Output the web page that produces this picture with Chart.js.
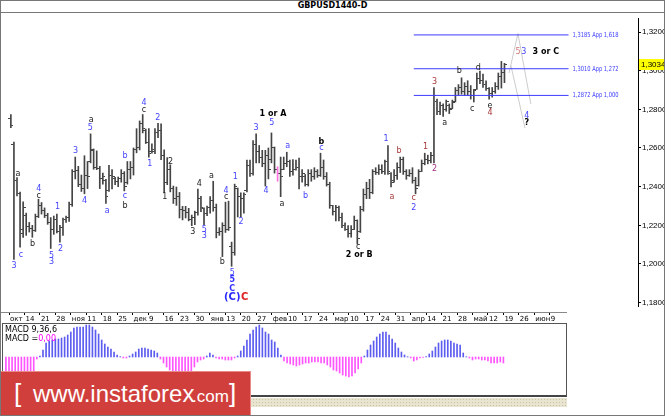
<!DOCTYPE html>
<html>
<head>
<meta charset="utf-8">
<title>GBPUSD1440-D</title>
<script src="https://cdn.jsdelivr.net/npm/chart.js@4.4.1/dist/chart.umd.min.js"></script>
<style>
    body { margin: 0; background: #fff; }
    #frame { position: relative; width: 665px; height: 416px; overflow: hidden; background: #fff; font-family: 'DejaVu Sans', sans-serif; }
    #frame canvas { position: absolute; display: block; }
    #outline { position: absolute; left: 0; top: 0; width: 665px; height: 416px; box-sizing: border-box; border: 1px solid #777; pointer-events: none; z-index: 9; }
    #title { position: absolute; left: 0; top: 0; width: 665px; height: 12px; border-bottom: 1px solid #777; text-align: center; font: bold 8px/12px 'DejaVu Sans', sans-serif; color: #000; }
    #priceChart { left: 1px; top: 13px; }
    #dateAxis { left: 0; top: 309px; }
    #macdBox { position: absolute; left: 2px; top: 323px; width: 565px; height: 74px; box-sizing: border-box; border: 1px solid #555; border-bottom: 2px solid #444; }
    #macdChart { left: 0; top: 0; }
    #macdText { position: absolute; left: 5px; top: 325px; font: 8px/9px 'DejaVu Sans', sans-serif; color: #000; }
    #macdText .zero { color: #ff00ff; }
    #strip { position: absolute; left: 0; top: 398px; width: 567px; height: 9px; background-color: #e8e4d0; background-image: radial-gradient(#c8c2a6 0.6px, transparent 0.8px); background-size: 3px 3px; }
    #banner { position: absolute; left: 0; top: 371px; width: 251px; height: 45px; box-sizing: border-box; background: #d13f3d; border-top: 1px solid #e88a88; border-right: 1px solid #e88a88; color: #fff; font-family: 'Liberation Sans', Arial, sans-serif; }
    #banner span { position: absolute; white-space: nowrap; }
    #banner .br { top: 6px; font-size: 26px; line-height: 30px; }
    #banner .www { left: 33px; top: 7px; font-size: 24px; line-height: 30px; }
    #banner .com { left: 192px; top: 12px; font-size: 17px; line-height: 26px; }
</style>
</head>
<body>
<div id="frame">
    <div id="title">GBPUSD1440-D</div>
    <canvas id="priceChart" width="663" height="298"></canvas>
    <canvas id="dateAxis" width="567" height="14"></canvas>
    <div id="macdBox"><canvas id="macdChart" width="563" height="71"></canvas></div>
    <div id="macdText">MACD 9,36,6<br>MACD =<span class="zero">0,00</span></div>
    <div id="strip"></div>
    <div id="banner">
        <span class="br" style="left:14px">[</span>
        <span class="www">www.instaforex</span>
        <span class="com">.com</span>
        <span class="br" style="left:229px">]</span>
    </div>
    <div id="outline"></div>
</div>

<script>
// GBPUSD daily bars, Oct 2016 - May 2017 (first bar sits at index -1, Oct 7 = index 0)
const firstBar = -1;

const opens = [
    1.2750, 1.2620, 1.2430, 1.2362, 1.2160, 1.2250, 1.2195, 1.2185, 1.2172, 1.2245,
    1.2300, 1.2275, 1.2250, 1.2215, 1.2180, 1.2230, 1.2170, 1.2190, 1.2230, 1.2240,
    1.2310, 1.2480, 1.2485, 1.2410, 1.2390, 1.2460, 1.2530, 1.2585, 1.2500, 1.2495,
    1.2440, 1.2430, 1.2380, 1.2460, 1.2440, 1.2425, 1.2440, 1.2470, 1.2420, 1.2490,
    1.2500, 1.2590, 1.2600, 1.2725, 1.2690, 1.2630, 1.2580, 1.2580, 1.2680, 1.2690,
    1.2560, 1.2420, 1.2490, 1.2390, 1.2340, 1.2350, 1.2280, 1.2275, 1.2265, 1.2230,
    1.2240, 1.2265, 1.2340, 1.2285, 1.2260, 1.2290, 1.2330, 1.2290, 1.2165, 1.2170,
    1.2200, 1.2180, 1.2090, 1.2060, 1.2390, 1.2350, 1.2340, 1.2380, 1.2510, 1.2470,
    1.2620, 1.2580, 1.2550, 1.2520, 1.2560, 1.2540, 1.2600, 1.2490, 1.2470, 1.2490,
    1.2520, 1.2530, 1.2480, 1.2490, 1.2500, 1.2450, 1.2450, 1.2410, 1.2470, 1.2450,
    1.2480, 1.2460, 1.2500, 1.2450, 1.2410, 1.2300, 1.2270, 1.2290, 1.2240, 1.2200,
    1.2180, 1.2160, 1.2180, 1.2225, 1.2170, 1.2280, 1.2360, 1.2390, 1.2370, 1.2480,
    1.2475, 1.2490, 1.2480, 1.2530, 1.2470, 1.2430, 1.2460, 1.2500, 1.2540, 1.2480,
    1.2460, 1.2470, 1.2430, 1.2405, 1.2480, 1.2520, 1.2540, 1.2535, 1.2560, 1.2840,
    1.2790, 1.2820, 1.2800, 1.2820, 1.2805, 1.2840, 1.2900, 1.2915, 1.2890, 1.2920,
    1.2890, 1.2870, 1.2905, 1.2960, 1.2950, 1.2930, 1.2910, 1.2880, 1.2890, 1.2920,
    1.2970, 1.2990
];
const highs = [
    1.2773, 1.2630, 1.2447, 1.2372, 1.2322, 1.2263, 1.2215, 1.2200, 1.2258, 1.2335,
    1.2318, 1.2290, 1.2262, 1.2240, 1.2248, 1.2258, 1.2200, 1.2238, 1.2248, 1.2320,
    1.2488, 1.2553, 1.2505, 1.2460, 1.2560, 1.2530, 1.2673, 1.2595, 1.2585, 1.2505,
    1.2470, 1.2438, 1.2510, 1.2488, 1.2448, 1.2450, 1.2488, 1.2478, 1.2530, 1.2530,
    1.2600, 1.2700, 1.2740, 1.2773, 1.2698, 1.2700, 1.2622, 1.2700, 1.2728, 1.2725,
    1.2590, 1.2550, 1.2513, 1.2403, 1.2398, 1.2370, 1.2298, 1.2298, 1.2288, 1.2253,
    1.2273, 1.2388, 1.2350, 1.2290, 1.2300, 1.2348, 1.2428, 1.2310, 1.2188, 1.2213,
    1.2320, 1.2325, 1.2113, 1.2413, 1.2393, 1.2368, 1.2368, 1.2538, 1.2538, 1.2638,
    1.2673, 1.2613, 1.2588, 1.2588, 1.2600, 1.2678, 1.2605, 1.2503, 1.2553, 1.2553,
    1.2578, 1.2538, 1.2540, 1.2538, 1.2548, 1.2488, 1.2463, 1.2488, 1.2488, 1.2498,
    1.2488, 1.2573, 1.2538, 1.2473, 1.2423, 1.2303, 1.2303, 1.2300, 1.2263, 1.2213,
    1.2198, 1.2198, 1.2248, 1.2228, 1.2298, 1.2388, 1.2423, 1.2438, 1.2488, 1.2498,
    1.2513, 1.2513, 1.2538, 1.2613, 1.2473, 1.2488, 1.2523, 1.2553, 1.2553, 1.2488,
    1.2488, 1.2498, 1.2448, 1.2488, 1.2538, 1.2573, 1.2563, 1.2578, 1.2913, 1.2853,
    1.2838, 1.2828, 1.2848, 1.2828, 1.2848, 1.2913, 1.2928, 1.2963, 1.2938, 1.2948,
    1.2923, 1.2903, 1.2988, 1.2998, 1.2983, 1.2948, 1.2913, 1.2913, 1.2938, 1.2988,
    1.3048, 1.3038
];
const lows = [
    1.2705, 1.2023, 1.2352, 1.2087, 1.2137, 1.2148, 1.2165, 1.2138, 1.2168, 1.2240,
    1.2258, 1.2240, 1.2205, 1.2080, 1.2153, 1.2160, 1.2113, 1.2148, 1.2215, 1.2220,
    1.2298, 1.2440, 1.2400, 1.2375, 1.2363, 1.2390, 1.2523, 1.2490, 1.2488, 1.2390,
    1.2413, 1.2313, 1.2375, 1.2388, 1.2410, 1.2400, 1.2423, 1.2378, 1.2413, 1.2440,
    1.2460, 1.2575, 1.2590, 1.2678, 1.2623, 1.2553, 1.2573, 1.2570, 1.2653, 1.2540,
    1.2373, 1.2410, 1.2373, 1.2313, 1.2303, 1.2238, 1.2228, 1.2238, 1.2223, 1.2198,
    1.2203, 1.2253, 1.2270, 1.2203, 1.2250, 1.2263, 1.2273, 1.2135, 1.2148, 1.2038,
    1.2163, 1.2173, 1.1988, 1.2045, 1.2243, 1.2243, 1.2263, 1.2373, 1.2453, 1.2460,
    1.2523, 1.2523, 1.2503, 1.2403, 1.2440, 1.2523, 1.2470, 1.2428, 1.2348, 1.2488,
    1.2503, 1.2453, 1.2460, 1.2485, 1.2388, 1.2423, 1.2403, 1.2403, 1.2428, 1.2438,
    1.2448, 1.2453, 1.2438, 1.2403, 1.2288, 1.2253, 1.2223, 1.2223, 1.2188, 1.2173,
    1.2138, 1.2138, 1.2178, 1.2103, 1.2163, 1.2273, 1.2338, 1.2338, 1.2363, 1.2463,
    1.2463, 1.2468, 1.2463, 1.2463, 1.2398, 1.2423, 1.2438, 1.2473, 1.2463, 1.2438,
    1.2453, 1.2418, 1.2363, 1.2403, 1.2478, 1.2513, 1.2518, 1.2523, 1.2523, 1.2773,
    1.2773, 1.2763, 1.2790, 1.2778, 1.2803, 1.2838, 1.2873, 1.2878, 1.2873, 1.2873,
    1.2853, 1.2838, 1.2903, 1.2933, 1.2913, 1.2898, 1.2853, 1.2863, 1.2883, 1.2903,
    1.2910, 1.2938
];
const closes = [
    1.2718, 1.2430, 1.2362, 1.2180, 1.2290, 1.2195, 1.2185, 1.2172, 1.2245, 1.2300,
    1.2275, 1.2250, 1.2215, 1.2180, 1.2230, 1.2170, 1.2190, 1.2230, 1.2240, 1.2310,
    1.2480, 1.2485, 1.2410, 1.2390, 1.2460, 1.2450, 1.2590, 1.2500, 1.2495, 1.2440,
    1.2450, 1.2350, 1.2460, 1.2450, 1.2425, 1.2440, 1.2470, 1.2400, 1.2490, 1.2500,
    1.2590, 1.2600, 1.2725, 1.2700, 1.2630, 1.2570, 1.2590, 1.2680, 1.2690, 1.2560,
    1.2420, 1.2490, 1.2390, 1.2340, 1.2350, 1.2280, 1.2275, 1.2265, 1.2230, 1.2240,
    1.2265, 1.2340, 1.2290, 1.2260, 1.2290, 1.2330, 1.2290, 1.2165, 1.2170, 1.2200,
    1.2180, 1.2190, 1.2060, 1.2400, 1.2350, 1.2340, 1.2360, 1.2510, 1.2470, 1.2620,
    1.2580, 1.2550, 1.2520, 1.2560, 1.2490, 1.2600, 1.2490, 1.2470, 1.2450, 1.2520,
    1.2530, 1.2480, 1.2490, 1.2500, 1.2450, 1.2470, 1.2410, 1.2470, 1.2450, 1.2480,
    1.2460, 1.2500, 1.2450, 1.2410, 1.2300, 1.2270, 1.2290, 1.2240, 1.2200, 1.2180,
    1.2160, 1.2180, 1.2225, 1.2130, 1.2280, 1.2360, 1.2390, 1.2370, 1.2480, 1.2475,
    1.2490, 1.2480, 1.2530, 1.2480, 1.2420, 1.2460, 1.2500, 1.2540, 1.2480, 1.2460,
    1.2470, 1.2430, 1.2390, 1.2480, 1.2520, 1.2540, 1.2535, 1.2560, 1.2870, 1.2790,
    1.2820, 1.2800, 1.2840, 1.2800, 1.2835, 1.2900, 1.2915, 1.2890, 1.2920, 1.2890,
    1.2870, 1.2900, 1.2960, 1.2950, 1.2930, 1.2910, 1.2880, 1.2890, 1.2920, 1.2970,
    1.2990, 1.3034
];

// MACD(9,36,6) histogram, one value per bar
const macdHist = [
    -0.0045, -0.0051, -0.0054, -0.0057, -0.0057, -0.0054, -0.0051, -0.0048, -0.0045, -0.0042,
    -0.0006, 0.0003, 0.0021, 0.0042, 0.0048, 0.0051, 0.0054, 0.0054, 0.0057, 0.0060,
    0.0066, 0.0075, 0.0087, 0.0090, 0.0090, 0.0090, 0.0096, 0.0096, 0.0090, 0.0081,
    0.0069, 0.0051, 0.0039, 0.0030, 0.0024, 0.0015, 0.0006, 0.0001, -0.0003, -0.0003,
    0.0003, 0.0009, 0.0015, 0.0024, 0.0027, 0.0027, 0.0024, 0.0021, 0.0018, 0.0012,
    -0.0006, -0.0018, -0.0030, -0.0039, -0.0045, -0.0051, -0.0054, -0.0054, -0.0051, -0.0048,
    -0.0042, -0.0030, -0.0015, -0.0009, -0.0006, 0.0003, 0.0012, 0.0006, -0.0003, -0.0006,
    -0.0006, -0.0009, -0.0009, -0.0009, -0.0003, 0.0003, 0.0018, 0.0033, 0.0051, 0.0069,
    0.0081, 0.0090, 0.0096, 0.0087, 0.0075, 0.0069, 0.0051, 0.0045, 0.0027, 0.0006,
    -0.0012, -0.0018, -0.0021, -0.0024, -0.0027, -0.0024, -0.0021, -0.0018, -0.0018, -0.0015,
    -0.0015, -0.0015, -0.0018, -0.0018, -0.0024, -0.0030, -0.0039, -0.0042, -0.0048, -0.0054,
    -0.0057, -0.0060, -0.0057, -0.0048, -0.0036, -0.0018, 0.0003, 0.0021, 0.0036, 0.0048,
    0.0060, 0.0069, 0.0075, 0.0075, 0.0066, 0.0054, 0.0042, 0.0027, 0.0015, 0.0006,
    0.0001, -0.0003, -0.0012, -0.0009, -0.0003, -0.0001, 0.0001, 0.0009, 0.0018, 0.0030,
    0.0042, 0.0048, 0.0051, 0.0051, 0.0048, 0.0042, 0.0039, 0.0036, 0.0012, 0.0001,
    -0.0003, -0.0009, -0.0006, -0.0006, -0.0009, -0.0009, -0.0012, -0.0018, -0.0018, -0.0018,
    -0.0015, -0.0018
];

// weekly time labels, one every 5 bars starting at index 0
const weekLabels = ['окт', '14', '21', '28', 'ноя', '11', '18', '25', 'дек', '9', '16', '23', '30',
    'янв', '13', '20', '27', 'фев', '10', '17', '24', 'мар', '10', '17', '24', '31',
    'апр', '14', '21', '28', 'май', '12', '19', '26', 'июн', '9'];
const priceTicks = [1.18, 1.20, 1.22, 1.24, 1.26, 1.28, 1.30, 1.32];

// Fibonacci targets
const fibLevels = [1.3185, 1.3010, 1.2872];
const fibLabels = ['1,3185 App 1,618', '1,3010 App 1,272', '1,2872 App 1,000'];

// forecast paths [bar index, price]
const forecastMain = [[161.5, 1.2988], [164.4, 1.3192], [168.6, 1.2828]];
const forecastAlt = [[162.1, 1.3027], [166.7, 1.2703]];

// wave marks [bar index, price, text, style]
const waveLabels = [
    [0, 1.1988, '3', 'blue'], [1.3, 1.2468, 'a', 'black'], [2.3, 1.2048, 'c', 'blue'],
    [6.1, 1.2103, 'b', 'black'], [8.1, 1.2390, '4', 'blue'], [8.1, 1.2353, 'c', 'black'],
    [12.3, 1.2043, '5', 'blue'], [12.3, 1.2008, '3', 'blue'], [14.2, 1.2293, '1', 'blue'],
    [15.2, 1.2078, '2', 'blue'], [20.1, 1.2583, '3', 'blue'], [23, 1.2328, '4', 'blue'],
    [24.9, 1.2703, '5', 'blue'], [25.2, 1.2743, 'a', 'black'], [30.4, 1.2273, 'a', 'blue'],
    [36.2, 1.2558, 'b', 'blue'], [36.2, 1.2353, 'c', 'blue'], [36.2, 1.2298, 'b', 'black'],
    [42.4, 1.2833, '4', 'blue'], [42.4, 1.2798, 'c', 'black'], [44.3, 1.2518, '1', 'blue'],
    [46.9, 1.2758, '2', 'blue'], [49.2, 1.2348, '1', 'black'], [51.1, 1.2528, '2', 'black'],
    [58.3, 1.2168, '3', 'black'], [60.5, 1.2413, '4', 'black'], [62.1, 1.2178, '5', 'blue'],
    [62.1, 1.2143, '3', 'blue'], [64.4, 1.2458, 'a', 'black'], [69.2, 1.2380, '4', 'blue'],
    [69.2, 1.2348, 'c', 'black'], [68, 1.2008, 'b', 'black'], [71.2, 1.1953, '5', 'blue'],
    [71.2, 1.1915, '5', 'blueBold'], [71.2, 1.1873, 'C', 'blueBold'], [71.2, 1.1828, '(C)', 'blueBig'],
    [75.3, 1.1828, 'C', 'redBig'], [72.2, 1.2448, '1', 'blue'], [74.1, 1.2218, '2', 'blue'],
    [79, 1.2703, '3', 'blue'], [82.2, 1.2378, '4', 'blue'], [84.1, 1.2728, '5', 'blue'],
    [84.5, 1.2778, '1 or A', 'blackBold'], [89.3, 1.2613, 'a', 'blue'], [87.4, 1.2313, 'a', 'black'],
    [95.1, 1.2353, 'b', 'blue'], [100.3, 1.2633, 'b', 'blackBold'], [100.3, 1.2598, 'c', 'blue'],
    [112.3, 1.2088, 'c', 'black'], [112.6, 1.2048, '2 or B', 'blackBold'], [121.4, 1.2648, '1', 'blue'],
    [125.6, 1.2583, 'b', 'red'], [123.3, 1.2348, 'a', 'red'], [130.4, 1.2343, 'c', 'red'],
    [130.4, 1.2288, '2', 'blue'], [134.3, 1.2603, '1', 'red'], [137.2, 1.2493, '2', 'purple'],
    [137.2, 1.2943, '3', 'red'], [140.5, 1.2728, 'a', 'black'], [145.3, 1.2998, 'b', 'black'],
    [149.5, 1.2803, 'c', 'black'], [151.5, 1.3013, 'd', 'black'], [155.3, 1.2818, 'e', 'black'],
    [155.3, 1.2783, '4', 'red'], [164.4, 1.3098, '5', 'pink'], [166.3, 1.3098, '3', 'blue'],
    [173.5, 1.3098, '3 or C', 'blackBold'], [167.3, 1.2768, '4', 'blue'], [167.3, 1.2728, '?', 'blackBold']
];

const pinkBar = 86;
const lastPrice = closes[closes.length - 1];

// ---- layout: the screenshot puts bar index 0 at x=9 with 3.09px per bar,
// and 1,3200 at y=27.5 with 0,02 every 40px
const X_AT_0 = 9, PX_PER_BAR = 3.09;
const Y_AT_132 = 27.5, PX_PER_UNIT = 2000;
const indexAt = px => (px - X_AT_0) / PX_PER_BAR;
const priceAt = py => 1.32 - (py - Y_AT_132) / PX_PER_UNIT;

const FONT = "'DejaVu Sans', sans-serif";
const BAR_COLOR = '#444';
const labelStyles = {
    blue: { color: '#4343ff', font: '8px ' + FONT },
    blueBold: { color: '#3030ff', font: 'bold 8px ' + FONT },
    blueBig: { color: '#2a2aff', font: 'bold 10px ' + FONT },
    black: { color: '#222', font: '8px ' + FONT },
    blackBold: { color: '#000', font: 'bold 8px ' + FONT },
    red: { color: '#a83838', font: '8px ' + FONT },
    redBig: { color: '#e02020', font: 'bold 10px ' + FONT },
    purple: { color: '#a0308a', font: '8px ' + FONT },
    pink: { color: '#d07878', font: '8px ' + FONT }
};

function tickImage(side) {
    const c = document.createElement('canvas');
    c.width = 5;
    c.height = 1;
    const g = c.getContext('2d');
    g.fillStyle = BAR_COLOR;
    g.fillRect(side === 'open' ? 0 : 3, 0, 2, 1);
    return c;
}

const barIndex = k => k + firstBar;
const common = {
    responsive: false,
    animation: false,
    events: [],
    layout: { padding: 0 },
    plugins: { legend: { display: false }, tooltip: { enabled: false } }
};

const annotations = {
    id: 'annotations',
    afterDatasetsDraw(chart) {
        const { ctx, scales: { x, y }, chartArea } = chart;
        ctx.save();
        ctx.textBaseline = 'middle';

        ctx.textAlign = 'center';
        waveLabels.forEach(([i, p, text, style]) => {
            ctx.fillStyle = labelStyles[style].color;
            ctx.font = labelStyles[style].font;
            ctx.fillText(text, x.getPixelForValue(i), y.getPixelForValue(p));
        });

        // level captions, squeezed like the terminal's narrow font
        ctx.textAlign = 'left';
        ctx.fillStyle = '#3a3aff';
        ctx.font = '7px ' + FONT;
        fibLevels.forEach((lvl, k) => {
            ctx.fillText(fibLabels[k], x.getPixelForValue(indexAt(572)), y.getPixelForValue(lvl), 46);
        });

        // current price box on the axis
        const py = Math.round(y.getPixelForValue(lastPrice));
        ctx.fillStyle = '#ffff00';
        ctx.fillRect(chartArea.right + 1, py - 5, chart.width - chartArea.right, 11);
        ctx.fillStyle = '#000';
        ctx.font = '8px ' + "'Liberation Sans', sans-serif";
        ctx.fillText(lastPrice.toFixed(4).replace('.', ','), chartArea.right + 3, py + 0.5);
        ctx.restore();
    }
};

const lineSet = (points, color) => ({
    type: 'line',
    data: points.map(([i, p]) => ({ x: i, y: p })),
    borderColor: color,
    borderWidth: 1,
    pointRadius: 0,
    tension: 0
});

new Chart(document.getElementById('priceChart'), {
    type: 'scatter',
    data: {
        datasets: [
            ...fibLevels.map(lvl => lineSet([[indexAt(412), lvl], [indexAt(568), lvl]], '#3c3cff')),
            lineSet(forecastMain, '#cccccc'),
            lineSet(forecastAlt, '#cccccc'),
            {
                type: 'bar',
                data: highs.map((h, k) => ({ x: barIndex(k), y: [lows[k], h] })),
                backgroundColor: c => (c.raw && c.raw.x === pinkBar ? '#ff70e0' : BAR_COLOR),
                barThickness: 1,
                borderWidth: 0
            },
            {
                type: 'scatter',
                data: opens.map((o, k) => ({ x: barIndex(k), y: o })),
                pointStyle: tickImage('open'),
                pointRadius: 3
            },
            {
                type: 'scatter',
                data: closes.map((c, k) => ({ x: barIndex(k), y: c })),
                pointStyle: tickImage('close'),
                pointRadius: 3
            }
        ]
    },
    options: {
        ...common,
        scales: {
            x: { type: 'linear', display: false, offset: false, min: indexAt(1), max: indexAt(638) },
            y: {
                type: 'linear',
                position: 'right',
                min: priceAt(311),
                max: priceAt(13),
                afterBuildTicks(s) { s.ticks = priceTicks.map(v => ({ value: v })); },
                afterFit(s) { s.width = 26; s.paddingTop = 0; s.paddingBottom = 0; },
                grid: { drawOnChartArea: false, tickLength: 3, color: '#000' },
                border: { color: '#000' },
                ticks: {
                    padding: 1,
                    color: '#000',
                    font: { size: 8, family: "'Liberation Sans', sans-serif" },
                    callback: v => v.toFixed(4).replace('.', ',')
                }
            }
        }
    },
    plugins: [annotations]
});

// time axis strip
new Chart(document.getElementById('dateAxis'), {
    type: 'scatter',
    data: { datasets: [{ data: [] }] },
    options: {
        ...common,
        scales: {
            x: {
                type: 'linear',
                position: 'bottom',
                min: indexAt(0),
                max: indexAt(567),
                afterBuildTicks(s) { s.ticks = weekLabels.map((_, k) => ({ value: k * 5 })); },
                afterFit(s) { s.height = 11; s.paddingLeft = 0; s.paddingRight = 0; },
                grid: { drawOnChartArea: false, tickLength: 3, color: '#000' },
                border: { color: '#888', dash: [1, 1] },
                ticks: {
                    autoSkip: false,
                    maxRotation: 0,
                    align: 'start',
                    labelOffset: 1,
                    padding: 0,
                    color: '#000',
                    font: { size: 7, family: FONT },
                    callback: (v, k) => weekLabels[k]
                }
            },
            y: { display: false }
        }
    }
});

// MACD histogram, 0.0003 per pixel, zero line at y=357
const MACD_PER_PX = 0.0003;
new Chart(document.getElementById('macdChart'), {
    type: 'scatter',
    data: {
        datasets: [{
            type: 'bar',
            data: macdHist.map((v, k) => ({ x: barIndex(k), y: v })),
            backgroundColor: c => (c.raw && c.raw.y < 0 ? '#ff55ff' : '#5c5cf0'),
            barThickness: 1,
            borderWidth: 0
        }]
    },
    options: {
        ...common,
        scales: {
            x: { type: 'linear', display: false, offset: false, min: indexAt(3), max: indexAt(566) },
            y: { display: false, min: -(395 - 357) * MACD_PER_PX, max: (357 - 324) * MACD_PER_PX }
        }
    }
});
</script>
</body>
</html>
